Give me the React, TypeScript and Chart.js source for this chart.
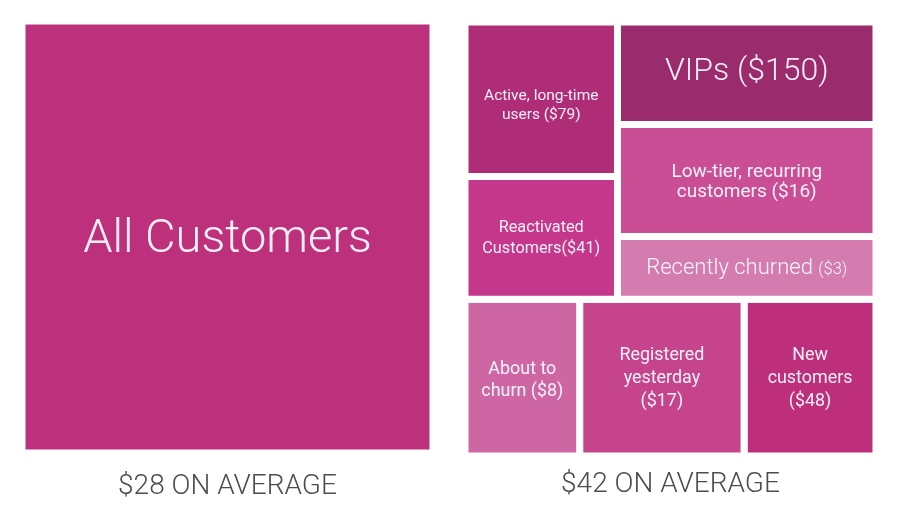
import { useEffect, useRef } from "react";
import { Chart, registerables } from "chart.js";

Chart.register(...registerables);

// ---------- data ----------
// Left panel: the whole customer base
const allName = "All Customers";
const allAverage = 28;

// Right panel: customer segments (average revenue per segment, $)
const segmentNames = [
  "Active, long-time\nusers ({v})",
  "Reactivated\nCustomers({v})",
  "VIPs ({v})",
  "Low-tier, recurring\ncustomers ({v})",
  "Recently churned |({v})",
  "About to\nchurn ({v})",
  "Registered\nyesterday\n({v})",
  "New\ncustomers\n({v})",
];
const segmentValues = [79, 41, 150, 16, 3, 8, 17, 48];
const segmentAverage = 42;

// Treemap tiling of each panel (percent of panel width / height)
const segX0 = [0, 0, 37.1, 37.1, 37.1, 0, 27.9, 67.9];
const segX1 = [37.1, 37.1, 100, 100, 100, 27.9, 67.9, 100];
const segY0 = [0, 35.6, 0, 23.6, 49.4, 63.9, 63.9, 63.9];
const segY1 = [35.6, 63.9, 23.6, 49.4, 63.9, 100, 100, 100];

// ---------- styles ----------
const allColor = "#BD307B";
const segColors = ["#AF2D76", "#C5378A", "#9A2C6E", "#C94E95", "#D47CB0", "#CE66A4", "#C5448B", "#BD2E7B"];
const segFontSize = [15.5, 16.3, 32, 19, 22, 17.9, 17.9, 17.9];
const segWeight = [400, 400, 300, 400, 300, 400, 400, 400];
const segLineH = [1.23, 1.29, 1.2, 1.05, 1.2, 1.25, 1.27, 1.27];
const segDy = [5, -1.5, -4.4, 0, -1.5, 1, -1, -1];

type Cell = {
  x0: number; x1: number; y0: number; y1: number;
  text: string; color: string; size: number; weight: number; lh: number; dy: number;
};

const leftCells: Cell[] = [
  { x0: 0, x1: 100, y0: 0, y1: 100, text: allName, color: allColor, size: 47, weight: 300, lh: 1.2, dy: -2 },
];

const rightCells: Cell[] = segmentNames.map((n, i) => ({
  x0: segX0[i], x1: segX1[i], y0: segY0[i], y1: segY1[i],
  text: n.replace("{v}", "$" + segmentValues[i]),
  color: segColors[i], size: segFontSize[i], weight: segWeight[i], lh: segLineH[i], dy: segDy[i],
}));

function makeLabelPlugin(cells: Cell[]) {
  return {
    id: "cellLabels",
    afterDatasetsDraw(chart: any) {
      const { ctx } = chart;
      const xs = chart.scales.x;
      const ys = chart.scales.y;
      ctx.save();
      ctx.fillStyle = "rgba(255,255,255,0.92)";
      ctx.textBaseline = "alphabetic";
      ctx.textAlign = "left";
      cells.forEach((c) => {
        const cx = xs.getPixelForValue((c.x0 + c.x1) / 2);
        const cy = ys.getPixelForValue((c.y0 + c.y1) / 2) + c.dy;
        const lines = c.text.split("\n");
        const L = c.size * c.lh;
        lines.forEach((line, i) => {
          const parts = line.split("|");
          const base = cy + (i - (lines.length - 1) / 2) * L + (0.711 * c.size) / 2;
          const f1 = `${c.weight} ${c.size}px Roboto`;
          const f2 = `${c.weight} ${c.size * 0.75}px Roboto`;
          ctx.font = f1;
          const w1 = ctx.measureText(parts[0]).width;
          let w2 = 0;
          if (parts[1]) {
            ctx.font = f2;
            w2 = ctx.measureText(parts[1]).width;
          }
          const sx = cx - (w1 + w2) / 2;
          ctx.font = f1;
          ctx.fillText(parts[0], sx, base);
          if (parts[1]) {
            ctx.font = f2;
            ctx.fillText(parts[1], sx + w1, base);
          }
        });
      });
      ctx.restore();
    },
  };
}

type PanelProps = {
  cells: Cell[]; title: string; left: number; top: number; width: number; area: number; pad: number;
};

function Panel({ cells, title, left, top, width, area, pad }: PanelProps) {
  const ref = useRef<HTMLCanvasElement | null>(null);
  const height = area + 30 + pad;
  useEffect(() => {
    if (!ref.current) return;
    const datasets = cells.map((c) => ({
      data: [
        { x: c.x0, y: c.y0 },
        { x: c.x1, y: c.y0 },
        { x: c.x1, y: c.y1 },
        { x: c.x0, y: c.y1 },
        { x: c.x0, y: c.y0 },
      ],
      fill: "shape",
      backgroundColor: c.color,
      borderColor: "#ffffff",
      borderWidth: 7,
      borderCapStyle: "square",
      borderJoinStyle: "miter",
      pointRadius: 0,
      tension: 0,
    }));
    const chart = new Chart(ref.current, {
      type: "line",
      data: { datasets: datasets as any },
      options: {
        responsive: false,
        animation: false,
        events: [],
        layout: { padding: 0 },
        scales: {
          x: { type: "linear", min: 0, max: 100, display: false },
          y: { type: "linear", min: 0, max: 100, reverse: true, display: false },
        },
        plugins: {
          legend: { display: false },
          tooltip: { enabled: false },
          title: {
            display: true,
            position: "bottom",
            text: title,
            color: "#4d4d4d",
            font: { family: "Roboto", size: 28, weight: 300 as any, lineHeight: "30px" },
            padding: { top: pad, bottom: 0 },
          },
        },
      },
      plugins: [makeLabelPlugin(cells)],
    } as any);
    return () => chart.destroy();
  }, []);
  return (
    <div style={{ position: "absolute", left, top, width, height }}>
      <canvas ref={ref} width={width} height={height} style={{ display: "block" }} />
    </div>
  );
}

export default function App() {
  return (
    <div style={{ position: "absolute", left: 0, top: 0, width: 900, height: 527, background: "#fff" }}>
      <Panel cells={leftCells} title={`$${allAverage} ON AVERAGE`} left={22} top={21} width={411} area={432} pad={19} />
      <Panel cells={rightCells} title={`$${segmentAverage} ON AVERAGE`} left={465} top={22} width={411} area={434} pad={14} />
    </div>
  );
}
